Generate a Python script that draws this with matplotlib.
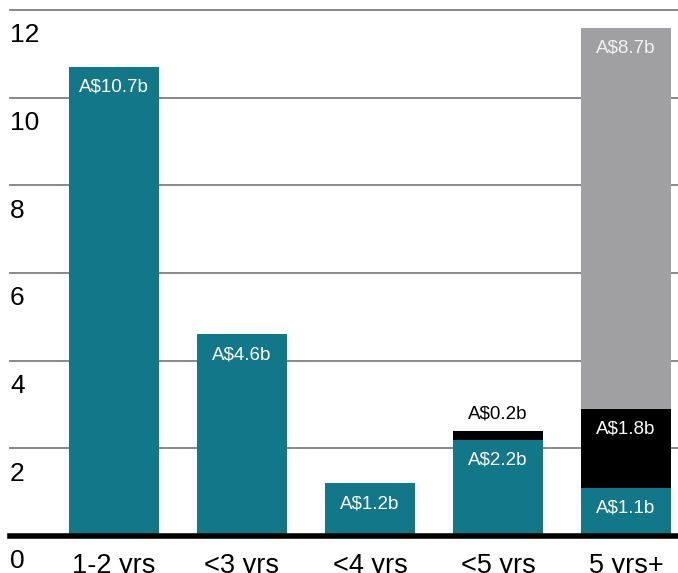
import matplotlib.pyplot as plt

plt.rcParams['font.family'] = ['Liberation Sans', 'DejaVu Sans']

categories = ['1-2 yrs', '<3 yrs', '<4 yrs', '<5 yrs', '5 yrs+']
teal_vals = [10.7, 4.6, 1.2, 2.2, 1.1]
black_vals = [0, 0, 0, 0.2, 1.8]
grey_vals = [0, 0, 0, 0, 8.7]
yticks = [0, 2, 4, 6, 8, 10, 12]

TEAL = '#127789'
BLACK = '#000000'
GREY = '#a0a0a2'

W, H = 678, 573
fig = plt.figure(figsize=(W / 100, H / 100), dpi=100)
ax = fig.add_axes([10 / W, (H - 536) / H, 1 - 10 / W, (536 - 10) / H])
ax.set_xlim(-104 / 128, 564 / 128)
ax.set_ylim(0, 12)
ax.axis('off')

for t in yticks[1:]:
    ax.axhline(t, color='#7f7f7f', lw=1.3, zorder=0, clip_on=False)
ax.axhline(0, color='black', lw=4, zorder=5, clip_on=False)

for t in yticks:
    ax.text(-104 / 128, t - 0.58, str(t), fontsize=19, ha='left', va='center',
            color='black')

x = list(range(len(categories)))
width = 90 / 128
bottoms = [0] * len(x)
for vals, col, tcol in [(teal_vals, TEAL, 'white'),
                        (black_vals, BLACK, 'white'),
                        (grey_vals, GREY, '#f2f2f2')]:
    ax.bar(x, vals, width, bottom=bottoms, color=col, zorder=2)
    for i, v in enumerate(vals):
        if v <= 0:
            continue
        top = bottoms[i] + v
        if v < 0.5:
            ax.annotate(f'A${v}b', (i, top), xytext=(0, 12), textcoords='offset points',
                        ha='center', va='center', fontsize=13.5, color='black')
        else:
            ax.annotate(f'A${v}b', (i, top), xytext=(0, -14.5), textcoords='offset points',
                        ha='center', va='center', fontsize=13.5, color=tcol)
    bottoms = [b + v for b, v in zip(bottoms, vals)]

for i, c in enumerate(categories):
    ax.text(i, -0.68, c, fontsize=19.5, ha='center', va='center', color='black')

fig.savefig('out.png', dpi=100)
